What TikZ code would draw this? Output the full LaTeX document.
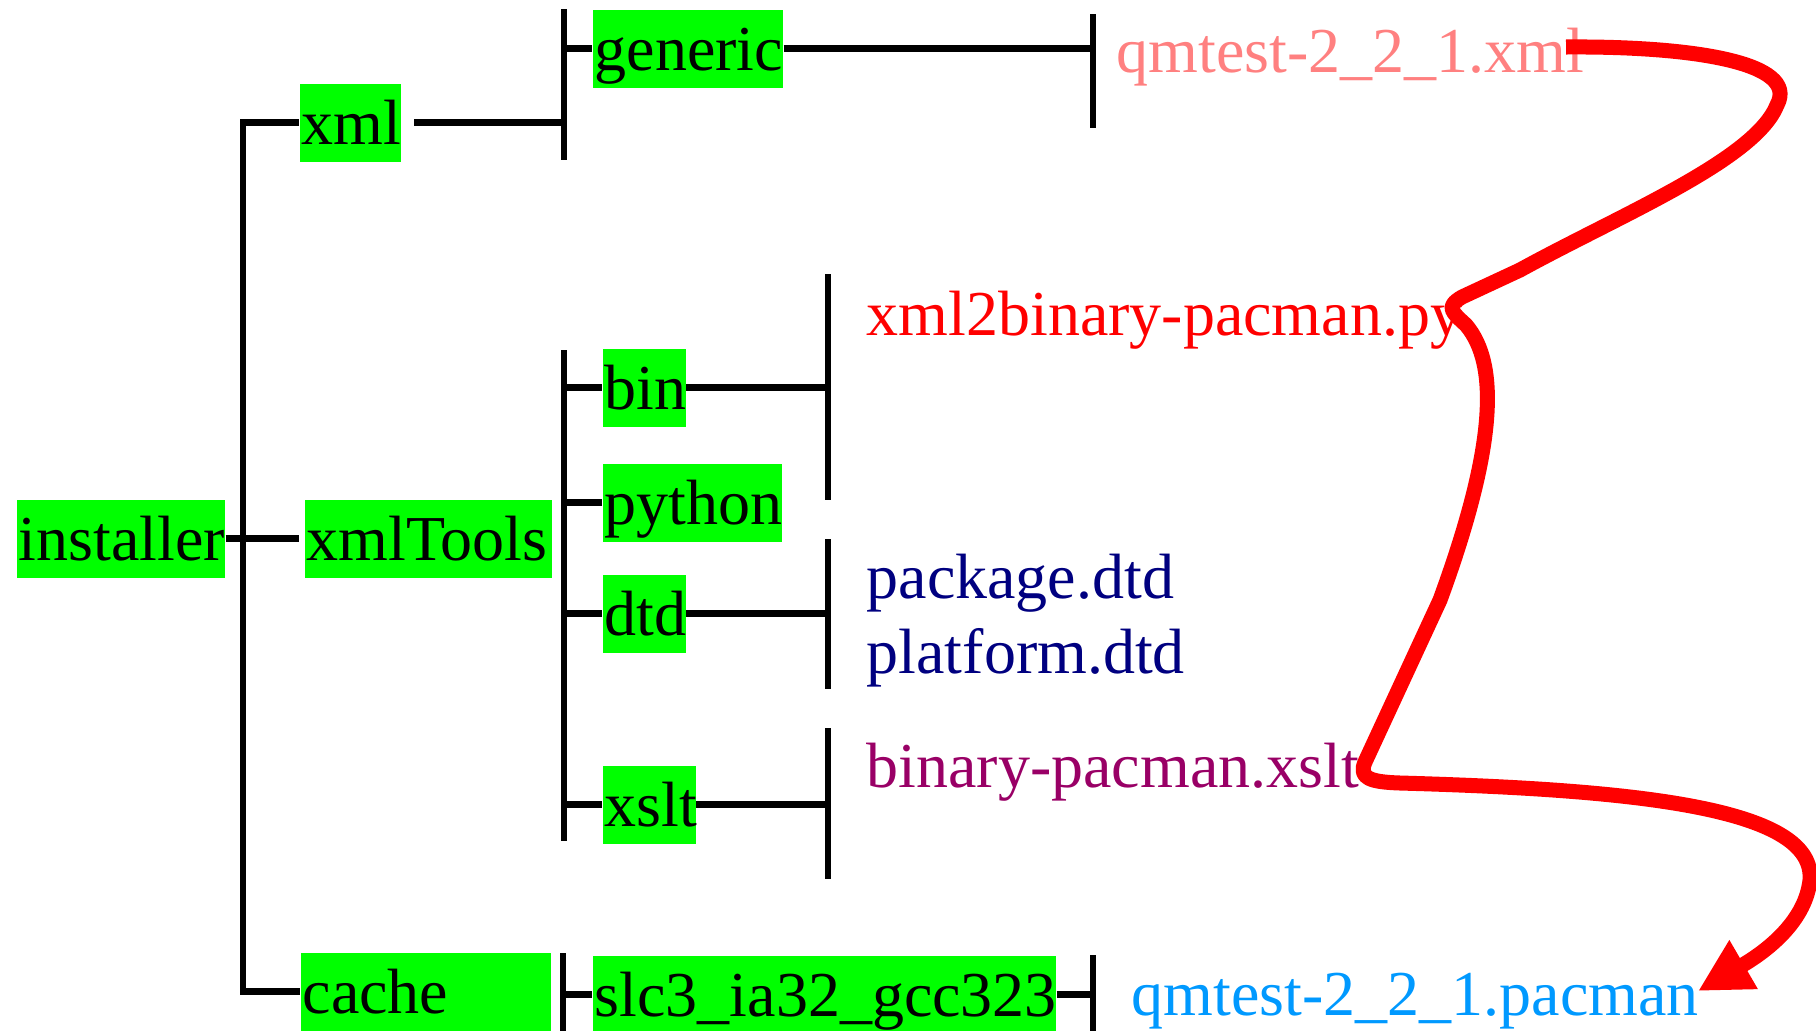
\documentclass[tikz,border=0pt]{standalone}
\usepackage{fontspec}
\setmainfont{Liberation Serif}
\usetikzlibrary{arrows.meta}
\definecolor{boxgreen}{HTML}{00FF00}
\definecolor{xmlpink}{HTML}{FF8080}
\definecolor{dtdnavy}{HTML}{000080}
\definecolor{xsltpurple}{HTML}{990066}
\definecolor{pacblue}{HTML}{0099FF}
\begin{document}
\begin{tikzpicture}[x=0.01cm, y=-0.01cm,
  font=\fontsize{18.2}{21}\selectfont,
  dirbox/.style={fill=boxgreen, anchor=north west, inner xsep=0.02cm, inner ysep=0pt,
                 text height=0.61cm, text depth=0.17cm, align=left},
  fileitem/.style={anchor=base west, inner sep=0pt},
  tree/.style={line width=0.065cm, black},
  flow/.style={line width=0.15cm, red, line join=round,
               -{Triangle[length=15pt, width=15pt]}}]
\useasboundingbox (0,0) rectangle (1816,1030);

% directory boxes
\node[dirbox, text width=2.04cm] (installer) at (16,499) {installer};
\node[dirbox, text width=0.97cm] (xml)       at (299,83) {xml};
\node[dirbox, text width=1.86cm] (generic)   at (592,9) {generic};
\node[dirbox, text width=2.43cm] (xmlTools)  at (304,499) {xmlTools};
\node[dirbox, text width=0.79cm] (bin)       at (602,348) {bin};
\node[dirbox, text width=1.75cm] (python)    at (602,463) {python};
\node[dirbox, text width=0.79cm] (dtd)       at (602,574) {dtd};
\node[dirbox, text width=0.89cm] (xslt)      at (602,765) {xslt};
\node[dirbox, text width=2.46cm] (cache)     at (300,952) {cache};
\node[dirbox, text width=4.59cm] (slc)       at (592,955) {slc3\_ia32\_gcc323};

% files
\node[fileitem, text=xmlpink]    (qmxml)   at (1116,72)  {qmtest-2\_2\_1.xml};
\node[fileitem, text=red]        (pyfile)  at (866,335)  {xml2binary-pacman.py};
\node[fileitem, text=dtdnavy]    (pkgdtd)  at (866,598)  {package.dtd};
\node[fileitem, text=dtdnavy]    (platdtd) at (866,673)  {platform.dtd};
\node[fileitem, text=xsltpurple] (xsltfile) at (866,787) {binary-pacman.xslt};
\node[fileitem, text=pacblue]    (qmpac)   at (1131,1015) {qmtest-2\_2\_1.pacman};

% bar positions
\coordinate (trunk) at (243,0);
\coordinate (barA) at (564,0);
\coordinate (barB) at (828,0);
\coordinate (barC) at (1093,0);

% installer trunk
\draw[tree] (xml.west) -| (trunk |- cache.west) -- (cache.west);
\draw[tree, shorten >=0.05cm] (installer.east) -- (xmlTools.west);

% xml branch
\draw[tree, shorten <=0.13cm] (xml.east) -- (xml.east -| barA);
\draw[tree] (564,9) -- (564,160);
\draw[tree] (generic.west -| barA) -- (generic.west);
\draw[tree] (generic.east) -- (generic.east -| barC);
\draw[tree] (1093,14) -- (1093,128);

% xmlTools branch
\draw[tree] (564,350) -- (564,841);
\foreach \d in {bin,python,dtd,xslt}
  \draw[tree] (\d.west -| barA) -- (\d.west);
\draw[tree] (bin.east) -- (bin.east -| barB);
\draw[tree] (828,274) -- (828,500);
\draw[tree] (dtd.east) -- (dtd.east -| barB);
\draw[tree] (828,539) -- (828,689);
\draw[tree] (xslt.east) -- (xslt.east -| barB);
\draw[tree] (828,728) -- (828,879);

% cache branch
\draw[tree] (563,953) -- (563,1040);
\draw[tree] (slc.west -| barA) -- (slc.west);
\draw[tree] (slc.east) -- (slc.east -| barC);
\draw[tree] (1093,955) -- (1093,1040);

% processing flow
\coordinate (f0) at (1566,47);
\coordinate (f1) at (1777,105);
\coordinate (f2) at (1520,270);
\coordinate (f3) at (1462,297);
\coordinate (f4) at (1466,325);
\coordinate (f5) at (1440,600);
\coordinate (f6) at (1365,762);
\coordinate (f7) at (1400,783);
\coordinate (f8) at (1810,880);
\coordinate (f9) at (1698,991);
\draw[flow] (f0) .. controls (1690,46) and (1800,62) .. (f1)
  .. controls (1755,160) and (1620,215) .. (f2) -- (f3)
  .. controls (1445,307) and (1452,312) .. (f4)
  .. controls (1500,365) and (1495,450) .. (f5) -- (f6)
  .. controls (1358,778) and (1370,782) .. (f7)
  .. controls (1650,790) and (1815,810) .. (f8)
  .. controls (1805,925) and (1760,955) .. (f9);
\end{tikzpicture}
\end{document}
